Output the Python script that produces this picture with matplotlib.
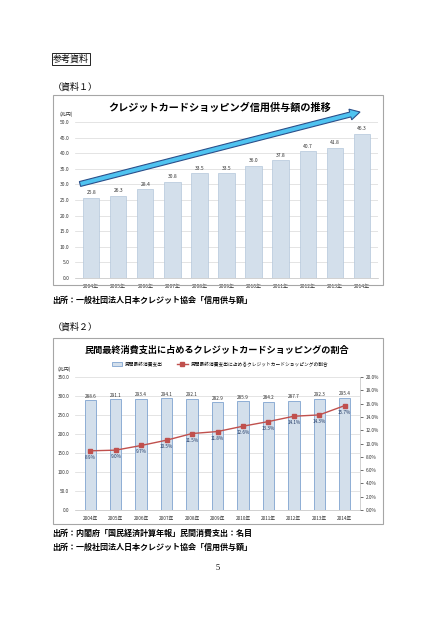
import matplotlib
matplotlib.use("Agg")
from matplotlib import pyplot as plt
from matplotlib.patches import Rectangle, FancyArrow
from matplotlib.transforms import IdentityTransform
import numpy as np

plt.rcParams['font.family'] = ['Noto Sans CJK JP', 'DejaVu Sans']

# data
years = ['2004年', '2005年', '2006年', '2007年', '2008年', '2009年',
         '2010年', '2011年', '2012年', '2013年', '2014年']
credit = [25.8, 26.3, 28.4, 30.8, 33.5, 33.5, 36.0, 37.8, 40.7, 41.8, 46.3]
consumption = [288.6, 291.1, 293.4, 294.1, 292.1, 282.9, 285.9, 284.2, 287.7, 292.3, 295.4]
share = [8.9, 9.0, 9.7, 10.5, 11.5, 11.8, 12.6, 13.3, 14.1, 14.3, 15.7]

W, H = 437, 620
fig = plt.figure(figsize=(W / 100, H / 100), dpi=100)


def fx(px):
    return px / W


def fy(py):
    return 1 - py / H


def box(x0, y0, x1, y1):
    fig.patches.append(Rectangle((fx(x0), fy(y1)), fx(x1 - x0), (y1 - y0) / H,
                                 transform=fig.transFigure, fill=False,
                                 edgecolor='#a6a6a6', linewidth=0.8))


# page header
fig.text(fx(53), fy(59), '参考資料', fontsize=6.5, va='center', ha='left',
         bbox=dict(boxstyle='square,pad=0.15', fc='white', ec='black', lw=0.6))
fig.text(fx(53), fy(87), '（資料１）', fontsize=6.5, va='center', ha='left')

# ------------------------------------chart 1----------------------------#
box(53, 95, 383, 285)
ax1 = fig.add_axes([fx(75), fy(278), fx(303), 156 / H])
x = np.arange(len(years))
ax1.bar(x, credit, width=0.6, color='#d3dfeb', edgecolor='#b4c7db', linewidth=0.5, zorder=2)
for xi, v in zip(x, credit):
    ax1.text(xi, v + 0.8, f'{v:.1f}', ha='center', va='bottom', fontsize=3.6, color='#333333')
ax1.set_ylim(0, 50)
ax1.set_xlim(-0.6, len(years) - 0.4)
ax1.set_yticks(np.arange(0, 50.1, 5))
ax1.set_yticklabels([f'{v:.1f}' for v in np.arange(0, 50.1, 5)])
ax1.set_xticks(x)
ax1.set_xticklabels(years)
ax1.tick_params(labelsize=3.6, length=0, pad=4, colors='#333333')
ax1.grid(axis='y', color='#d9d9d9', linewidth=0.5, zorder=0)
for spine in ('top', 'right', 'left'):
    ax1.spines[spine].set_visible(False)
ax1.spines['bottom'].set_color('#bfbfbf')
ax1.spines['bottom'].set_linewidth(0.5)
fig.text(fx(60), fy(114), '(兆円)', fontsize=3.6, color='#333333', va='center')
fig.text(fx(220), fy(108), 'クレジットカードショッピング信用供与額の推移', fontsize=7.3,
         fontweight='bold', ha='center', va='center')

# trend arrow, drawn in pixel space (decoration, not data)
tail = (80, H - 184)
tip = (360, H - 112)
fig.patches.append(FancyArrow(tail[0], tail[1], tip[0] - tail[0], tip[1] - tail[1],
                              width=5, head_width=11, head_length=10,
                              length_includes_head=True, transform=IdentityTransform(),
                              fc='#4fc3f0', ec='#2b4f8a', lw=0.8, zorder=5))

fig.text(fx(52), fy(300), '出所：一般社団法人日本クレジット協会「信用供与額」', fontsize=5.8,
         fontweight='bold', va='center')
fig.text(fx(53), fy(327), '（資料２）', fontsize=6.5, va='center', ha='left')

# ------------------------------------chart 2----------------------------#
box(53, 338, 383, 524)
ax2 = fig.add_axes([fx(75), fy(510), fx(285), 133 / H])
ax2.bar(x, consumption, width=0.45, color='#d3dfeb', edgecolor='#7fa3cf', linewidth=0.6,
        zorder=2, label='民間最終消費支出')
for xi, v in zip(x, consumption):
    ax2.text(xi, v + 4, f'{v:.1f}', ha='center', va='bottom', fontsize=3.4, color='#333333')
ax2.set_ylim(0, 350)
ax2.set_xlim(-0.6, len(years) - 0.4)
ax2.set_yticks(np.arange(0, 351, 50))
ax2.set_yticklabels([f'{v:.1f}' for v in np.arange(0, 351, 50)])
ax2.set_xticks(x)
ax2.set_xticklabels(years)
ax2.tick_params(labelsize=3.4, length=0, pad=4, colors='#333333')
ax2.grid(axis='y', color='#d9d9d9', linewidth=0.5, zorder=0)
for spine in ('top', 'right', 'left'):
    ax2.spines[spine].set_visible(False)
ax2.spines['bottom'].set_color('#bfbfbf')
ax2.spines['bottom'].set_linewidth(0.5)

ax2r = ax2.twinx()
ax2r.plot(x, share, color='#c0504d', linewidth=1.0, marker='s', markersize=2.8,
          markerfacecolor='#c0504d', markeredgecolor='#c0504d', zorder=3,
          label='民間最終消費支出に占めるクレジットカードショッピングの割合')
for xi, v in zip(x, share):
    ax2r.text(xi, v - 0.6, f'{v:.1f}%', ha='center', va='top', fontsize=3.4, color='#1f3864')
ax2r.set_ylim(0, 20)
ax2r.set_yticks(np.arange(0, 20.1, 2))
ax2r.set_yticklabels([f'{v:.1f}%' for v in np.arange(0, 20.1, 2)])
ax2r.tick_params(labelsize=3.4, length=2, width=0.5, pad=2, colors='#333333', direction='out')
for spine in ('top', 'left', 'bottom'):
    ax2r.spines[spine].set_visible(False)
ax2r.spines['right'].set_color('#bfbfbf')
ax2r.spines['right'].set_linewidth(0.5)

fig.text(fx(58), fy(369), '(兆円)', fontsize=3.6, color='#333333', va='center')
fig.text(fx(217), fy(350), '民間最終消費支出に占めるクレジットカードショッピングの割合',
         fontsize=6.6, fontweight='bold', ha='center', va='center')
h1, l1 = ax2.get_legend_handles_labels()
h2, l2 = ax2r.get_legend_handles_labels()
fig.legend(h1 + h2, l1 + l2, loc='center', bbox_to_anchor=(fx(220), fy(364)), ncol=2,
           fontsize=3.4, frameon=False, handlelength=2.2, columnspacing=3,
           handletextpad=0.6, borderaxespad=0)

fig.text(fx(52), fy(533), '出所：内閣府「国民経済計算年報」民間消費支出：名目', fontsize=5.8,
         fontweight='bold', va='center')
fig.text(fx(52), fy(547), '出所：一般社団法人日本クレジット協会「信用供与額」', fontsize=5.8,
         fontweight='bold', va='center')
fig.text(fx(218), fy(568), '5', fontsize=6, ha='center', va='center', family='Liberation Serif')

fig.savefig('out.png', dpi=100, facecolor='white')
